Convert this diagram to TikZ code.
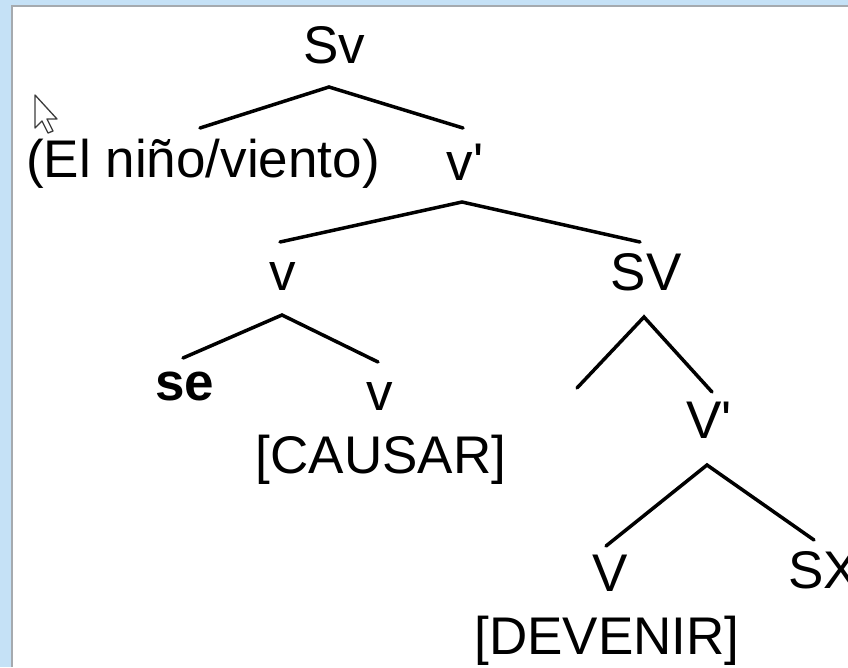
\documentclass[tikz,border=0pt]{standalone}
\usepackage{fontspec}
\newfontfamily\arial{Liberation Sans}
\definecolor{bluebg}{RGB}{197,225,246}
\definecolor{edgegray}{RGB}{165,170,175}
\definecolor{cursorgray}{RGB}{60,60,60}
\begin{document}
\begin{tikzpicture}[x=1pt,y=-1pt,
  lbl/.style={anchor=base,inner sep=0pt,font=\arial\fontsize{53}{60}\selectfont},
  branch/.style={line width=3.5pt,line cap=round,line join=miter}]
\useasboundingbox (0,0) rectangle (848,667);
\fill[bluebg] (0,0) rectangle (848,667);
\fill[white] (12,6) rectangle (848,667);
\draw[edgegray,line width=2pt] (12,667) -- (12,6) -- (848,6);
% cursor
\draw[cursorgray,fill=white,line width=1.3pt,line join=round]
  (35,95) -- (35,128) -- (42,121) -- (48,133) -- (53,131) -- (47,119) -- (57,119) -- cycle;
% labels
\node[lbl] (Sv) at (334,63) {Sv};
\node[lbl] (el) at (203,177) {(El niño/viento)};
\node[lbl] (vbar) at (465,180) {v'};
\node[lbl] (v1) at (283,290) {v};
\node[lbl] (SV) at (646,290) {SV};
\node[lbl] (se) at (185,400) {\bfseries se};
\node[lbl] (v2) at (380,410) {v};
\node[lbl] (causar) at (381,473) {[CAUSAR]};
\node[lbl] (Vbar) at (709,438) {V'};
\node[lbl] (V) at (610,591) {V};
\node[lbl,anchor=base west] (SX) at (788,588) {SX};
\node[lbl] (devenir) at (607,654) {[DEVENIR]};
% branch points
\coordinate (Sv-t) at (329,87);  \coordinate (Sv-l) at (200,128); \coordinate (Sv-r) at (463,128);
\coordinate (vb-t) at (462,202); \coordinate (vb-l) at (280,242); \coordinate (vb-r) at (640,242);
\coordinate (v-t)  at (282,315); \coordinate (v-l)  at (183,358); \coordinate (v-r)  at (378,362);
\coordinate (SV-t) at (644,317); \coordinate (SV-l) at (577,388); \coordinate (SV-r) at (712,392);
\coordinate (Vb-t) at (707,465); \coordinate (Vb-l) at (606,546); \coordinate (Vb-r) at (814,540);
\draw[branch] (Sv-l) -- (Sv-t) -- (Sv-r);
\draw[branch] (vb-l) -- (vb-t) -- (vb-r);
\draw[branch] (v-l) -- (v-t) -- (v-r);
\draw[branch] (SV-l) -- (SV-t) -- (SV-r);
\draw[branch] (Vb-l) -- (Vb-t) -- (Vb-r);
\end{tikzpicture}
\end{document}
